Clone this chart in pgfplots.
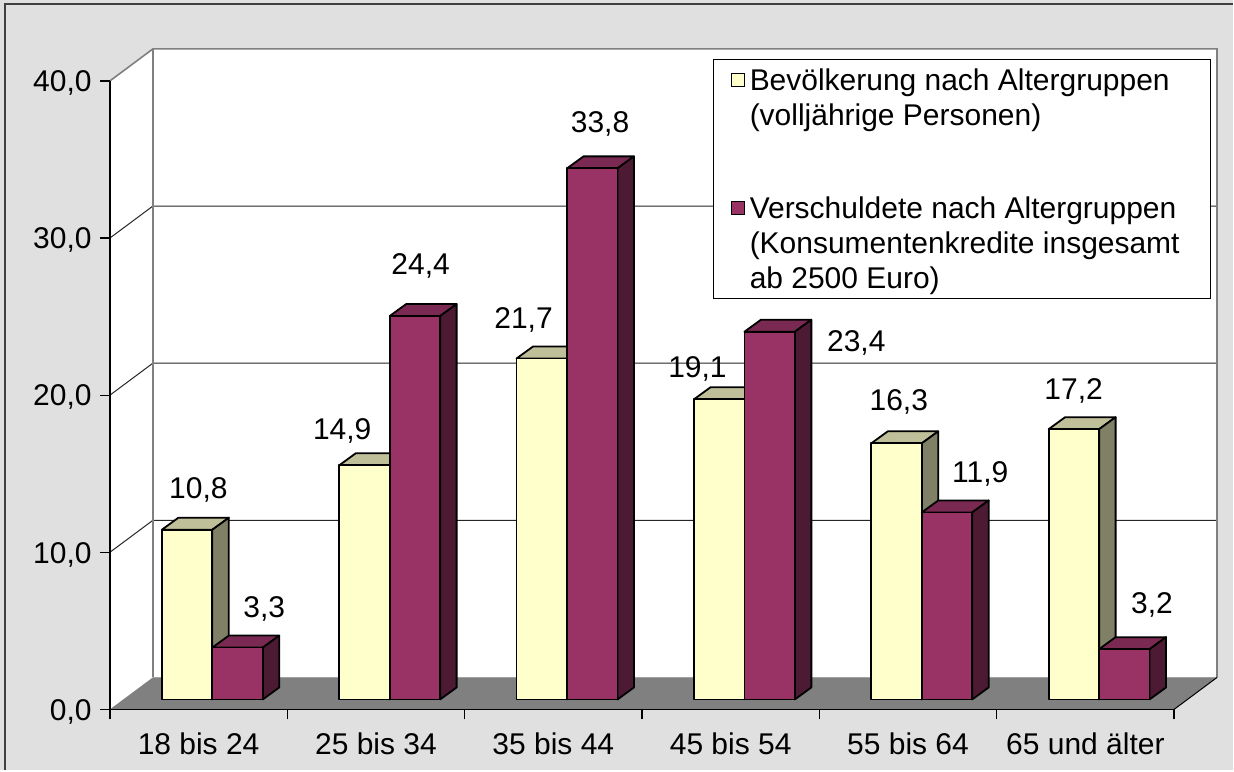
\documentclass[border=0pt]{standalone}
\usepackage{fontspec}
\setmainfont{Liberation Sans}
\usepackage{pgfplots}
\usepackage{pgfplotstable}
\pgfplotsset{compat=1.18}
\pgfkeys{/pgf/number format/assume math mode=true}

\definecolor{bgcol}{HTML}{E0E0E0}
\definecolor{ycol}{HTML}{FFFFCC}
\definecolor{ytop}{HTML}{BFBF99}
\definecolor{yside}{HTML}{808066}
\definecolor{pcol}{HTML}{993366}
\definecolor{ptop}{HTML}{7A2952}
\definecolor{pside}{HTML}{4D1A33}
\definecolor{floorcol}{HTML}{808080}
\newcommand\chartfont{\fontsize{15}{17.5}\selectfont}
\pgfdeclareplotmark{nothing}{}

% x = category centre, y = value, lx/ly = label offset (px) from the data point
\pgfplotstableread{
x   y    lx      ly
0.5 10.8 -0.25   41.2
1.5 14.9 -33.75  35.7
2.5 21.7 -29.75  39.8
3.5 19.1 -33.25  31.7
4.5 16.3 -9.25   42.7
5.5 17.2 -11.75  39.5
}\bevtab
\pgfplotstableread{
x   y    lx      ly
0.5 3.3  65.75   40.1
1.5 24.4 44.75   51.3
2.5 33.8 46.75   45.5
3.5 23.4 125.75  -10
4.5 11.9 72.25   39.9
5.5 3.2  66.75   45.7
}\vertab

\pgfplotsset{
  % args: front, top, side colour, left and right edge of the front face (px)
  box3d/.style n args={5}{
    scatter, only marks, mark=nothing,
    point meta=y, forget plot,
    visualization depends on={\thisrow{y} \as \barval},
    scatter/@pre marker code/.code={%
      \pgfmathsetmacro\hh{15.725*\barval}%
      \begin{scope}[x=0.5pt, y=0.5pt, draw=black, line width=0.9pt, line join=round]
        \filldraw[fill=#2] (#4,10) -- (#4+16.5,22) -- (#5+16.5,22) -- (#5,10) -- cycle;
        \filldraw[fill=#3] (#5,10) -- (#5+16.5,22) -- (#5+16.5,22-\hh) -- (#5,10-\hh) -- cycle;
        \filldraw[fill=#1] (#4,10-\hh) rectangle (#5,10);
      \end{scope}},
    scatter/@post marker code/.code={},
  },
  barlabels/.style={
    draw=none, mark=none, forget plot,
    point meta=explicit,
    visualization depends on={\thisrow{lx} \as \labx},
    visualization depends on={\thisrow{ly} \as \laby},
    nodes near coords={\pgfmathprintnumber[fixed,fixed zerofill,precision=1,use comma]{\pgfplotspointmeta}},
    every node near coord/.append style={anchor=base, inner sep=0pt, font=\chartfont,
      text=black, xshift=\labx*0.5pt, yshift=\laby*0.5pt},
  },
}

\begin{document}
\begin{tikzpicture}
\begin{axis}[
  at={(0pt,0pt)}, anchor=south west,
  scale only axis, width=532.5pt, height=314.5pt,
  xmin=0, xmax=6, ymin=0, ymax=40,
  clip=false, set layers,
  axis x line*=bottom, axis y line*=left,
  axis line style={black, line width=0.75pt},
  xtick={0,1,...,6}, x tick label as interval,
  xticklabels={18 bis 24,25 bis 34,35 bis 44,45 bis 54,55 bis 64,65 und älter},
  ytick={0,10,...,40},
  tick align=outside, major tick length=5pt,
  tick style={black, line width=0.6pt},
  tick label style={font=\chartfont},
  xticklabel style={anchor=base, inner sep=0pt, yshift=-17.5pt},
  yticklabel style={anchor=base east, inner sep=0pt, xshift=-4pt, yshift=-5.4pt,
    /pgf/number format/.cd, fixed, fixed zerofill, precision=1, use comma},
  legend image code/.code={\draw[#1, draw=black, line width=0.6pt] (0pt,2pt) rectangle (6.5pt,8.5pt);},
  legend style={at={(1.0347,1.035)}, anchor=north east, draw=black, line width=0.6pt, fill=white,
    inner xsep=8.5pt, inner ysep=0pt, row sep=29pt, column sep=2.5pt,
    cells={anchor=base west}, nodes={inner sep=0pt, text depth=}, font=\chartfont},
]
\begin{pgfonlayer}{axis background}
  % chart area and its frame
  \fill[bgcol] ([xshift=-55pt,yshift=-30.5pt]rel axis cs:0,0) rectangle ([xshift=29.5pt,yshift=40.5pt]rel axis cs:1,1);
  \draw[black!75, line width=1pt] ([xshift=-52.5pt,yshift=-30.5pt]rel axis cs:0,0)
    -- ([xshift=-52.5pt,yshift=38.5pt]rel axis cs:0,1) -- ([xshift=29.5pt,yshift=38.5pt]rel axis cs:1,1);
  % back wall, left wall, floor
  \fill[white] ([xshift=21.5pt,yshift=16pt]axis cs:0,0) rectangle ([xshift=21.5pt,yshift=16pt]axis cs:6,40);
  \fill[white] (axis cs:0,0) -- (axis cs:0,40) -- ([xshift=21.5pt,yshift=16pt]axis cs:0,40)
    -- ([xshift=21.5pt,yshift=16pt]axis cs:0,0) -- cycle;
  \fill[floorcol] (axis cs:0,0) -- (axis cs:6,0) -- ([xshift=21.5pt,yshift=16pt]axis cs:6,0)
    -- ([xshift=21.5pt,yshift=16pt]axis cs:0,0) -- cycle;
  % grid lines
  \draw[black!85, line width=0.5pt] (axis cs:0,10) -- ([xshift=21.5pt,yshift=16pt]axis cs:0,10) -- ([xshift=21.5pt,yshift=16pt]axis cs:6,10);
  \draw[black!85, line width=0.5pt] (axis cs:0,20) -- ([xshift=21.5pt,yshift=16pt]axis cs:0,20) -- ([xshift=21.5pt,yshift=16pt]axis cs:6,20);
  \draw[black!85, line width=0.5pt] (axis cs:0,30) -- ([xshift=21.5pt,yshift=16pt]axis cs:0,30) -- ([xshift=21.5pt,yshift=16pt]axis cs:6,30);
  % wall edges
  \draw[floorcol, line width=0.8pt] (axis cs:0,40) -- ([xshift=21.5pt,yshift=16pt]axis cs:0,40)
    -- ([xshift=21.5pt,yshift=16pt]axis cs:6,40) -- ([xshift=21.5pt,yshift=16pt]axis cs:6,0);
  \draw[floorcol, line width=0.8pt] ([xshift=21.5pt,yshift=16pt]axis cs:0,0) -- ([xshift=21.5pt,yshift=16pt]axis cs:0,40);
  \draw[black, line width=0.5pt] (axis cs:6,0) -- ([xshift=21.5pt,yshift=16pt]axis cs:6,0);
\end{pgfonlayer}

\addplot[box3d={ycol}{ytop}{yside}{-36.75}{13.75}] table[x=x,y=y] {\bevtab};
\addplot[box3d={pcol}{ptop}{pside}{13.75}{64.25}] table[x=x,y=y] {\vertab};
\addplot[barlabels] table[x=x,y=y,meta=y] {\bevtab};
\addplot[barlabels] table[x=x,y=y,meta=y] {\vertab};

\addlegendimage{fill=ycol}
\addlegendentry{\begin{tabular}[t]{@{}p{222pt}@{}}\rule{0pt}{15.5pt}Bevölkerung nach Altergruppen\\(volljährige Personen)\end{tabular}}
\addlegendimage{fill=pcol}
\addlegendentry{\begin{tabular}[t]{@{}p{222pt}@{}}Verschuldete nach Altergruppen\\(Konsumentenkredite insgesamt\\ab 2500 Euro)\end{tabular}}
\end{axis}
\end{tikzpicture}
\end{document}
